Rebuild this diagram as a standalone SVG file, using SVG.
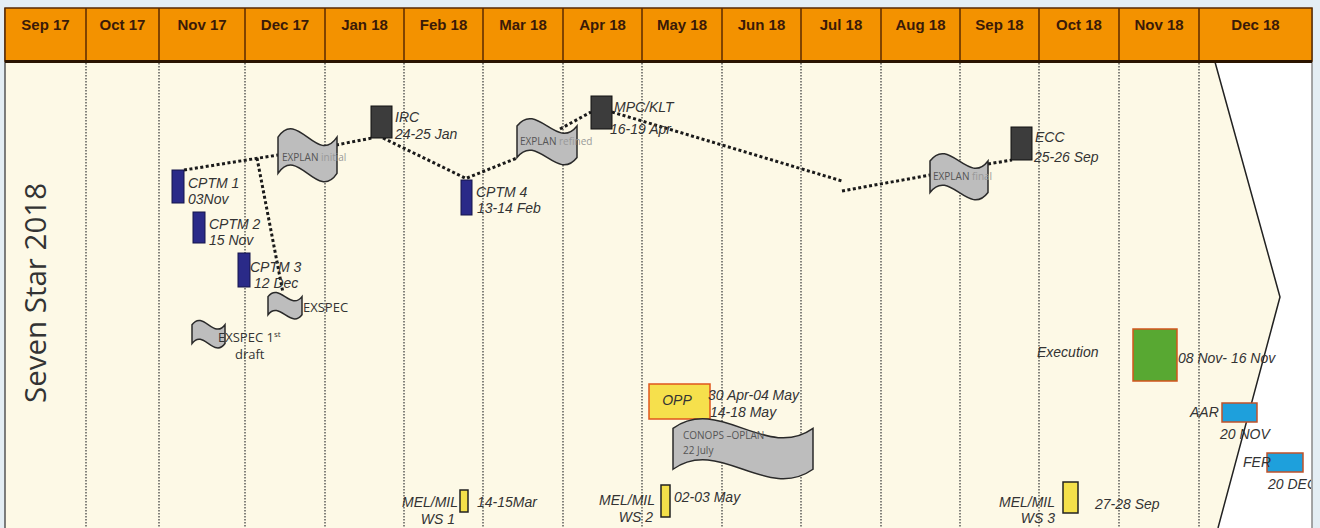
<svg xmlns="http://www.w3.org/2000/svg" width="1320" height="528" viewBox="0 0 1320 528">
<defs>
<style>
.hdr{font-family:"Liberation Sans",Arial,sans-serif;font-weight:bold;font-size:15px;fill:#3a1a08;text-anchor:middle}
.lbl{font-family:"Liberation Sans",Arial,sans-serif;font-style:italic;font-size:14px;fill:#333}
.reg{font-family:"Open Sans","Noto Sans",sans-serif;font-size:13px;fill:#333}
.fl{font-family:"Open Sans","Noto Sans",sans-serif;font-size:10px;fill:#555}
.fl2{fill:#999}
.vdot{stroke:#444;stroke-width:1.3;stroke-dasharray:1.5 1.5;fill:none}
.conn{stroke:#1a1a1a;stroke-width:3;stroke-dasharray:3 2.5;fill:none}
.wave{fill:#bdbdbd;stroke:#2a2a2a;stroke-width:1.5}
.dark{fill:#3c3c3c;stroke:#111;stroke-width:1}
.navy{fill:#2a2a88;stroke:#15154a;stroke-width:1}
.yel{fill:#f4e04a;stroke:#222;stroke-width:1.5}
</style>
<clipPath id="clipR"><rect x="0" y="0" width="1311" height="528"/></clipPath>
</defs>
<rect x="0" y="0" width="1320" height="528" fill="#e4eef4"/>
<!-- body -->
<polygon points="5,62 1215,62 1280,297 1218,528 5,528" fill="#fdf9e6"/>
<polygon points="1215,62 1312,62 1312,528 1218,528 1280,297" fill="#ffffff"/>
<polyline points="1215,62 1280,297 1218,528" fill="none" stroke="#222" stroke-width="1.5"/>
<line x1="5" y1="8" x2="5" y2="528" stroke="#555" stroke-width="1.5"/>
<line x1="1312" y1="8" x2="1312" y2="528" stroke="#888" stroke-width="1.5"/>
<g id="gridlines">
<line class="vdot" x1="86" y1="63" x2="86" y2="528"/>
<line class="vdot" x1="159" y1="63" x2="159" y2="528"/>
<line class="vdot" x1="245" y1="63" x2="245" y2="528"/>
<line class="vdot" x1="325" y1="63" x2="325" y2="528"/>
<line class="vdot" x1="404" y1="63" x2="404" y2="528"/>
<line class="vdot" x1="483" y1="63" x2="483" y2="528"/>
<line class="vdot" x1="563" y1="63" x2="563" y2="528"/>
<line class="vdot" x1="642" y1="63" x2="642" y2="528"/>
<line class="vdot" x1="722" y1="63" x2="722" y2="528"/>
<line class="vdot" x1="801" y1="63" x2="801" y2="528"/>
<line class="vdot" x1="881" y1="63" x2="881" y2="528"/>
<line class="vdot" x1="960" y1="63" x2="960" y2="528"/>
<line class="vdot" x1="1039" y1="63" x2="1039" y2="528"/>
<line class="vdot" x1="1119" y1="63" x2="1119" y2="528"/>
<line class="vdot" x1="1199" y1="63" x2="1199" y2="528"/>
</g>
<!-- header -->
<g id="header">
<rect x="5" y="8" width="1307" height="53" fill="#f39200" stroke="#5a2a00" stroke-width="1.5"/>
<g stroke="#5a2a00" stroke-width="1.5">
<line x1="86" y1="8" x2="86" y2="61"/><line x1="159" y1="8" x2="159" y2="61"/><line x1="245" y1="8" x2="245" y2="61"/>
<line x1="325" y1="8" x2="325" y2="61"/><line x1="404" y1="8" x2="404" y2="61"/><line x1="483" y1="8" x2="483" y2="61"/>
<line x1="563" y1="8" x2="563" y2="61"/><line x1="642" y1="8" x2="642" y2="61"/><line x1="722" y1="8" x2="722" y2="61"/>
<line x1="801" y1="8" x2="801" y2="61"/><line x1="881" y1="8" x2="881" y2="61"/><line x1="960" y1="8" x2="960" y2="61"/>
<line x1="1039" y1="8" x2="1039" y2="61"/><line x1="1119" y1="8" x2="1119" y2="61"/><line x1="1199" y1="8" x2="1199" y2="61"/>
</g>
<line x1="5" y1="61.5" x2="1312" y2="61.5" stroke="#2a1400" stroke-width="3"/>
<text class="hdr" x="45.5" y="30">Sep 17</text>
<text class="hdr" x="122.5" y="30">Oct 17</text>
<text class="hdr" x="202" y="30">Nov 17</text>
<text class="hdr" x="285" y="30">Dec 17</text>
<text class="hdr" x="364.5" y="30">Jan 18</text>
<text class="hdr" x="443.5" y="30">Feb 18</text>
<text class="hdr" x="523" y="30">Mar 18</text>
<text class="hdr" x="602.5" y="30">Apr 18</text>
<text class="hdr" x="682" y="30">May 18</text>
<text class="hdr" x="761.5" y="30">Jun 18</text>
<text class="hdr" x="841" y="30">Jul 18</text>
<text class="hdr" x="920.5" y="30">Aug 18</text>
<text class="hdr" x="999.5" y="30">Sep 18</text>
<text class="hdr" x="1079" y="30">Oct 18</text>
<text class="hdr" x="1159" y="30">Nov 18</text>
<text class="hdr" x="1255.5" y="30">Dec 18</text>
</g>
<g id="title">
<text x="0" y="0" transform="translate(46,293) rotate(-90)" text-anchor="middle" font-family="Open Sans, Noto Sans, sans-serif" font-size="30" fill="#333" textLength="220" lengthAdjust="spacingAndGlyphs">Seven Star 2018</text>
</g>
<!-- connectors -->
<g id="connectors">
<line class="conn" x1="184" y1="170" x2="278" y2="155"/>
<line class="conn" x1="257" y1="158" x2="283" y2="293"/>
<line class="conn" x1="336" y1="145" x2="372" y2="138"/>
<line class="conn" x1="383" y1="138" x2="467" y2="179"/>
<line class="conn" x1="467" y1="178" x2="517" y2="158"/>
<line class="conn" x1="560" y1="129" x2="591" y2="112"/>
<line class="conn" x1="612" y1="112" x2="842" y2="181"/>
<line class="conn" x1="842" y1="191" x2="930" y2="175"/>
<line class="conn" x1="988" y1="164" x2="1012" y2="160"/>
</g>
<!-- nodes -->
<g id="cptm1"><rect class="navy" x="172" y="170" width="12" height="33"/><text class="lbl" x="188" y="188">CPTM 1</text><text class="lbl" x="188" y="204">03Nov</text></g>
<g id="cptm2"><rect class="navy" x="193" y="212" width="12" height="31"/><text class="lbl" x="209" y="229">CPTM 2</text><text class="lbl" x="209" y="245">15 Nov</text></g>
<g id="cptm3"><rect class="navy" x="238" y="253" width="12" height="34"/><text class="lbl" x="250" y="272">CPTM 3</text><text class="lbl" x="254" y="288">12 Dec</text></g>
<g id="cptm4"><rect class="navy" x="461" y="180" width="11" height="35"/><text class="lbl" x="476" y="197">CPTM 4</text><text class="lbl" x="477" y="213">13-14 Feb</text></g>
<g id="explan-initial"><path class="wave" d="M0,0.17 C0.33,-0.37 0.67,0.71 1,0.17 L1,0.84 C0.67,1.38 0.33,0.3 0,0.84 Z" transform="translate(278,128) scale(59,54)" vector-effect="non-scaling-stroke"/><text class="fl" x="282" y="161">EXPLAN <tspan class="fl2">initial</tspan></text></g>
<g id="irc"><rect class="dark" x="371" y="106" width="21" height="32"/><text class="lbl" x="395" y="122">IRC</text><text class="lbl" x="395" y="139">24-25 Jan</text></g>
<g id="explan-refined"><path class="wave" d="M0,0.17 C0.33,-0.37 0.67,0.71 1,0.17 L1,0.84 C0.67,1.38 0.33,0.3 0,0.84 Z" transform="translate(517,118) scale(60,47)" vector-effect="non-scaling-stroke"/><text class="fl" x="520" y="145">EXPLAN <tspan class="fl2">refined</tspan></text></g>
<g id="mpc"><rect class="dark" x="591" y="96" width="21" height="33"/><text class="lbl" x="614" y="112">MPC/KLT</text><text class="lbl" x="610" y="134">16-19 Apr</text></g>
<g id="explan-final"><path class="wave" d="M0,0.17 C0.33,-0.37 0.67,0.71 1,0.17 L1,0.84 C0.67,1.38 0.33,0.3 0,0.84 Z" transform="translate(930,153) scale(58,47)" vector-effect="non-scaling-stroke"/><text class="fl" x="933" y="180">EXPLAN <tspan class="fl2">final</tspan></text></g>
<g id="ecc"><rect class="dark" x="1011" y="127" width="21" height="33"/><text class="lbl" x="1035" y="142">ECC</text><text class="lbl" x="1034" y="162">25-26 Sep</text></g>
<g id="exspec"><path class="wave" d="M0,0.17 C0.33,-0.37 0.67,0.71 1,0.17 L1,0.84 C0.67,1.38 0.33,0.3 0,0.84 Z" transform="translate(268,292) scale(34,27)" vector-effect="non-scaling-stroke"/><text class="reg" x="303" y="312">EXSPEC</text></g>
<g id="exspec-draft"><path class="wave" d="M0,0.17 C0.33,-0.37 0.67,0.71 1,0.17 L1,0.84 C0.67,1.38 0.33,0.3 0,0.84 Z" transform="translate(192,320) scale(33,28)" vector-effect="non-scaling-stroke"/><text class="reg" x="218" y="342">EXSPEC 1<tspan font-size="8" dy="-5">st</tspan></text><text class="reg" x="235" y="359">draft</text></g>
<g id="opp"><rect x="649" y="384" width="61" height="35" fill="#f6e04c" stroke="#e0561c" stroke-width="1.5"/><text class="lbl" x="677" y="405" font-size="9" text-anchor="middle" fill="#555">OPP</text><text class="lbl" x="708" y="400">30 Apr-04 May</text><text class="lbl" x="710" y="417">14-18 May</text></g>
<g id="conops"><path class="wave" d="M0,0.17 C0.33,-0.37 0.67,0.71 1,0.17 L1,0.84 C0.67,1.38 0.33,0.3 0,0.84 Z" transform="translate(673,418) scale(140,61)" vector-effect="non-scaling-stroke"/><text class="fl" x="683" y="439" font-size="8">CONOPS –OPLAN</text><text class="fl" x="683" y="454" font-size="8">22 July</text></g>
<g id="ws1"><rect class="yel" x="460" y="490" width="8" height="22"/><text class="lbl" x="458" y="507" text-anchor="end">MEL/MIL</text><text class="lbl" x="455" y="524" text-anchor="end">WS 1</text><text class="lbl" x="477" y="507">14-15Mar</text></g>
<g id="ws2"><rect class="yel" x="661" y="485" width="9" height="32"/><text class="lbl" x="655" y="505" text-anchor="end">MEL/MIL</text><text class="lbl" x="653" y="522" text-anchor="end">WS 2</text><text class="lbl" x="674" y="502">02-03 May</text></g>
<g id="ws3"><rect class="yel" x="1063" y="482" width="15" height="31"/><text class="lbl" x="1055" y="507" text-anchor="end">MEL/MIL</text><text class="lbl" x="1055" y="523" text-anchor="end">WS 3</text><text class="lbl" x="1095" y="509">27-28 Sep</text></g>
<g id="execution"><text class="lbl" x="1037" y="357">Execution</text><rect x="1133" y="329" width="44" height="52" fill="#58a832" stroke="#d2541c" stroke-width="1.5"/><text class="lbl" x="1178" y="363">08 Nov- 16 Nov</text></g>
<g id="aar"><rect x="1222" y="403" width="35" height="19" fill="#1ea0dc" stroke="#c0522a" stroke-width="1.5"/><text class="lbl" x="1190" y="417">AAR</text><text class="lbl" x="1220" y="439">20 NOV</text></g>
<g id="fer" clip-path="url(#clipR)"><rect x="1267" y="453" width="36" height="19" fill="#1ea0dc" stroke="#c0522a" stroke-width="1.5"/><text class="lbl" x="1243" y="467">FER</text><text class="lbl" x="1268" y="489">20 DEC</text></g>
</svg>
